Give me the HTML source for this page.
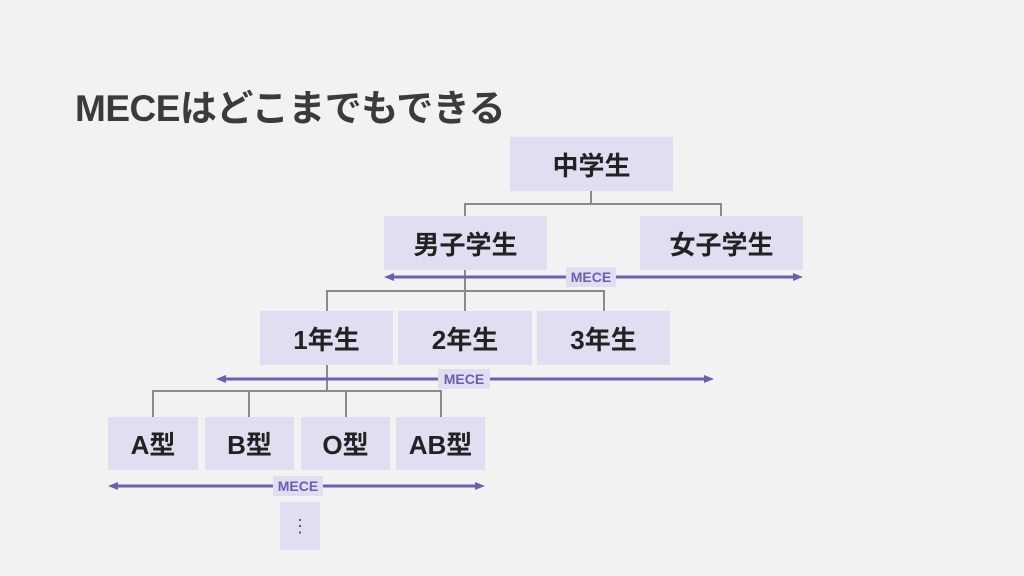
<!DOCTYPE html>
<html><head><meta charset="utf-8"><style>
body{margin:0;width:1024px;height:576px;background:#f2f2f2;position:relative;overflow:hidden;font-family:"Liberation Sans","Noto Sans CJK JP",sans-serif}
.t{position:absolute;left:75px;top:78px;font-size:37px;font-weight:bold;color:#3b3b3b;letter-spacing:-0.5px}
.b{position:absolute;background:#e0dff1;display:flex;align-items:center;justify-content:center;font-weight:bold;color:#222;font-size:26px}
.m{position:absolute;background:#e0dff1;color:#6a5fb0;font-size:14px;font-weight:bold;display:flex;align-items:center;justify-content:center}
svg{position:absolute;left:0;top:0}
</style></head><body>
<div class="t">MECEはどこまでもできる</div>
<svg width="1024" height="576">
<g stroke="#8a8a8a" stroke-width="2" fill="none">
<path d="M591 191V204M465 216V204H721V216"/>
<path d="M465 270V311M327 311V291H604V311"/>
<path d="M327 365V391M153 417V391H441V417M249 391V417M346 391V417"/>
</g>
<g stroke="#6a5fb0" stroke-width="3" fill="#6a5fb0">
<line x1="390" y1="277" x2="797" y2="277"/><path d="M384 277l10-4v8zM803 277l-10-4v8z" stroke="none"/>
<line x1="222" y1="379" x2="708" y2="379"/><path d="M216 379l10-4v8zM714 379l-10-4v8z" stroke="none"/>
<line x1="114" y1="486" x2="479" y2="486"/><path d="M108 486l10-4v8zM485 486l-10-4v8z" stroke="none"/>
</g>
</svg>
<div class="b" style="left:510px;top:137px;width:163px;height:54px">中学生</div>
<div class="b" style="left:384px;top:216px;width:163px;height:54px">男子学生</div>
<div class="b" style="left:640px;top:216px;width:163px;height:54px">女子学生</div>
<div class="m" style="left:566px;top:267px;width:50px;height:20px">MECE</div>
<div class="b" style="left:260px;top:311px;width:133px;height:54px">1年生</div>
<div class="b" style="left:398px;top:311px;width:134px;height:54px">2年生</div>
<div class="b" style="left:537px;top:311px;width:133px;height:54px">3年生</div>
<div class="m" style="left:438px;top:369px;width:52px;height:20px">MECE</div>
<div class="b" style="left:108px;top:417px;width:90px;height:53px">A型</div>
<div class="b" style="left:205px;top:417px;width:89px;height:53px">B型</div>
<div class="b" style="left:301px;top:417px;width:89px;height:53px">O型</div>
<div class="b" style="left:396px;top:417px;width:89px;height:53px">AB型</div>
<div class="m" style="left:273px;top:476px;width:50px;height:20px">MECE</div>
<div class="b" style="left:280px;top:502px;width:40px;height:48px;font-size:18px;font-weight:normal;color:#555">⋮</div>
</body></html>
